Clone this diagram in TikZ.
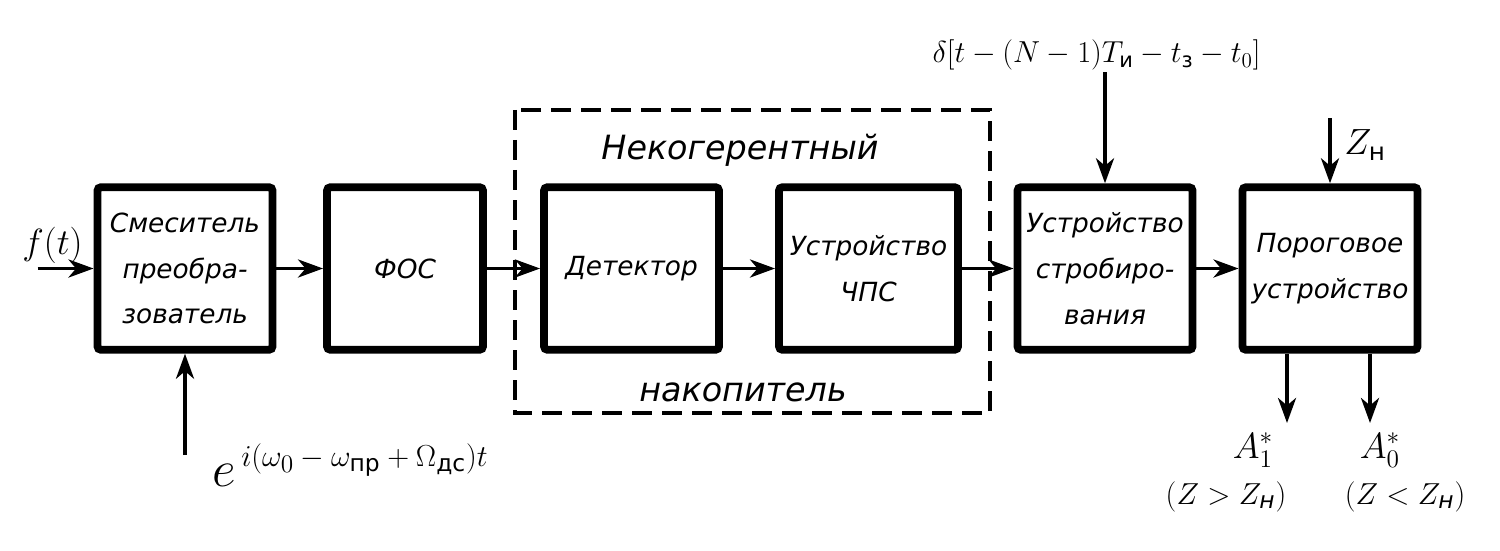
\documentclass[tikz,border=0pt]{standalone}
\usepackage{amsmath}
\usepackage{fontspec}
\setmainfont{DejaVu Sans}
\usepackage{tikz}
\usetikzlibrary{arrows.meta}

\tikzset{
  blok/.style={draw, line width=4.5pt, rounded corners=2pt, minimum width=3.5cm,
    minimum height=3.25cm, align=center, font=\itshape\fontsize{15}{26}\selectfont},
  strelka/.style={-{Stealth[length=5mm,width=3.6mm,inset=1.5mm]}, line width=2.2pt},
  nadpis/.style={font=\itshape\fontsize{19}{22}\selectfont},
  formula/.style={font=\itshape\fontsize{19}{22}\selectfont, inner sep=1pt},
}

\begin{document}
\begin{tikzpicture}
  \useasboundingbox (0,0) rectangle (30,-11);

  % Некогерентный накопитель
  \draw[line width=2pt, dash pattern=on 0.4cm off 0.2cm] (10.3,-2.2) rectangle (19.8,-8.26);
  \node[nadpis] (nek) at (14.8,-3.0) {Некогерентный};
  \node[nadpis] (nak) at (14.86,-7.84) {накопитель};

  % Блоки
  \node[blok] (smes) at (3.7,-5.37) {Смеситель\\преобра-\\зователь};
  \node[blok, minimum width=3.12cm] (fos) at (8.1,-5.37) {ФОС};
  \node[blok] (det) at (12.63,-5.37) {Детектор};
  \node[blok, minimum width=3.58cm] (chps) at (17.37,-5.37) {Устройство\\ЧПС};
  \node[blok] (strob) at (22.1,-5.37) {Устройство\\стробиро-\\вания};
  \node[blok] (porog) at (26.6,-5.37) {Пороговое\\устройство};

  % Связи
  \draw[strelka] (smes) -- (fos);
  \draw[strelka] (fos) -- (det);
  \draw[strelka] (det) -- (chps);
  \draw[strelka] (chps) -- (strob);
  \draw[strelka] (strob) -- (porog);

  % Вход сигнала
  \node[formula, font=\fontsize{20}{24}\selectfont] (ft) at (1.05,-4.9) {$f(t)$};
  \coordinate (vhod) at (0.75,-5.37);
  \draw[strelka] (vhod) -- (smes.west);

  % Гетеродин
  \coordinate (get) at (3.7,-9.1);
  \draw[strelka] (get) -- (smes.south);
  \node[formula, font=\fontsize{19}{24}\selectfont] (eksp) at (7.0,-9.3)
    {\scalebox{1.7}{$e$}\,\raisebox{11pt}{$i(\omega_0-\omega_{\text{пр}}+\Omega_{\text{дс}})t$}};

  % Стробирующий импульс
  \node[formula, font=\fontsize{17}{22}\selectfont] (delta) at (21.93,-1.1)
    {$\delta[t-(N-1)T_{\text{и}}-t_{\text{з}}-t_0]$};
  \draw[strelka] (strob.north |- delta.south) -- (strob.north);

  % Порог
  \coordinate (zvh) at (26.6,-2.36);
  \draw[strelka] (zvh) -- (porog.north);
  \node[formula, font=\fontsize{20}{24}\selectfont] (zn) at (27.3,-2.9) {$Z_{\text{н}}$};

  % Выходы
  \coordinate (v1) at (25.74,-8.46);
  \coordinate (v0) at (27.4,-8.46);
  \draw[strelka] (porog.south -| v1) -- (v1);
  \draw[strelka] (porog.south -| v0) -- (v0);
  \node[formula, font=\fontsize{21}{24}\selectfont] (a1) at (25.06,-9.0) {$A_1^*$};
  \node[formula, font=\fontsize{21}{24}\selectfont] (a0) at (27.6,-9.0) {$A_0^*$};
  \node[formula] (u1) at (24.52,-9.93) {$(Z>Z_{\text{н}})$};
  \node[formula] (u0) at (28.1,-9.93) {$(Z<Z_{\text{н}})$};
\end{tikzpicture}
\end{document}
